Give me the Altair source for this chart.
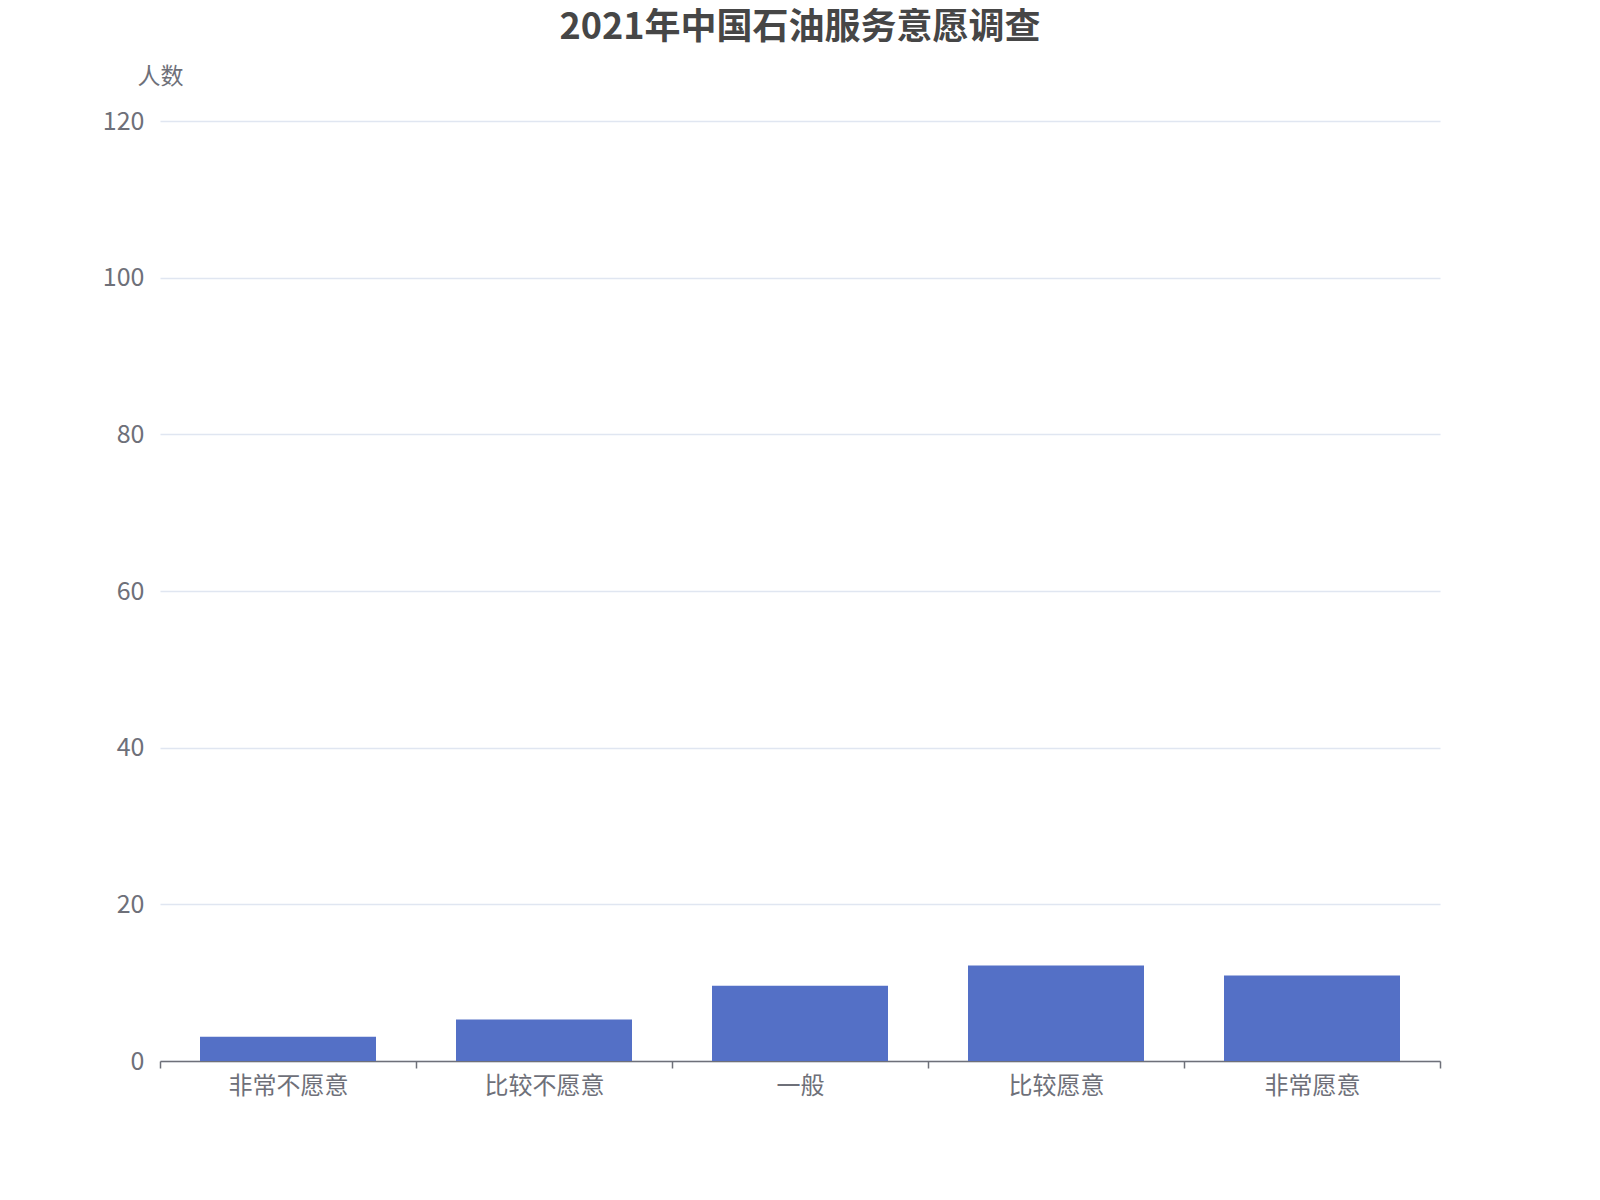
import altair as alt
import pandas as pd

categories = ["非常不愿意", "比较不愿意", "一般", "比较愿意", "非常愿意"]
values = [3.1, 5.3, 9.6, 12.2, 10.9]
y_ticks = [0, 20, 40, 60, 80, 100, 120]

df = pd.DataFrame({"category": categories, "value": values})

FONT = "Noto Sans CJK SC"

bars = alt.Chart(df).mark_bar(
    color="#5470C6", width=alt.RelativeBandSize(0.6875)
).encode(
    x=alt.X(
        "category:N",
        sort=categories,
        scale=alt.Scale(paddingInner=0, paddingOuter=0),
        axis=alt.Axis(
            title=None,
            labelAngle=0,
            labelFont=FONT,
            labelFontSize=24,
            labelColor="#6E7079",
            labelPadding=6,
            domainColor="#6E7079",
            domainWidth=1.5,
            tickColor="#6E7079",
            tickWidth=1.5,
            tickSize=7,
            tickBand="extent",
            grid=False,
        ),
    ),
    y=alt.Y(
        "value:Q",
        scale=alt.Scale(domain=[0, 120], nice=False),
        axis=alt.Axis(
            title="人数",
            titleFont=FONT,
            titleFontSize=23,
            titleFontWeight="normal",
            titleColor="#6E7079",
            titleAngle=0,
            titleAlign="center",
            titleBaseline="middle",
            titleX=0,
            titleY=-45,
            values=y_ticks,
            labelFont=FONT,
            labelFontSize=25,
            labelColor="#6E7079",
            labelPadding=16,
            domain=False,
            ticks=False,
            grid=True,
            gridColor="#E0E6F1",
            gridWidth=1.5,
        ),
    ),
)

chart = bars.properties(
    width=1280,
    height=940,
    title=alt.TitleParams(
        text="2021年中国石油服务意愿调查",
        font=FONT,
        fontSize=36,
        fontWeight="bold",
        color="#464646",
        anchor="middle",
        offset=18,
    ),
    autosize=alt.AutoSizeParams(type="none"),
    padding={"left": 152, "top": 113, "right": 150, "bottom": 100},
).configure(background="white").configure_view(stroke=None)

chart.save("out.html", embed_options={"renderer": "svg", "actions": False})
